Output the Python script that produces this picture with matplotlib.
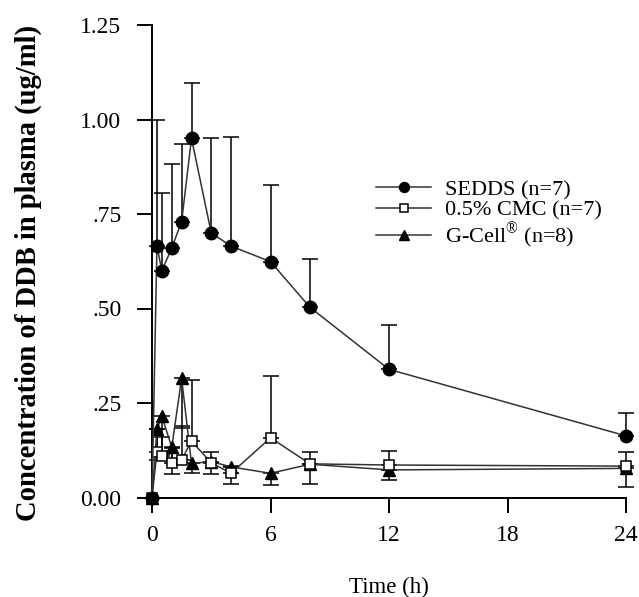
import matplotlib
matplotlib.use("Agg")
import matplotlib.pyplot as plt
import numpy as np

plt.rcParams['font.family'] = ['Liberation Serif', 'DejaVu Serif']
plt.rcParams['mathtext.fontset'] = 'custom'
plt.rcParams['mathtext.rm'] = 'Liberation Serif'

time_h = [0, 0.25, 0.5, 1, 1.5, 2, 3, 4, 6, 8, 12, 24]
sedds = [0, 0.665, 0.60, 0.66, 0.73, 0.95, 0.70, 0.665, 0.624, 0.503, 0.339, 0.163]
sedds_sd = [0, 0.335, 0.206, 0.222, 0.204, 0.147, 0.25, 0.289, 0.202, 0.127, 0.117, 0.06]
cmc = [0, 0.12, 0.11, 0.09, 0.10, 0.149, 0.092, 0.064, 0.158, 0.089, 0.086, 0.083]
cmc_sd = [0, 0.06, 0.05, 0.04, 0.09, 0.162, 0.028, 0.02, 0.164, 0.031, 0.038, 0.038]
gcell = [0, 0.18, 0.215, 0.133, 0.315, 0.09, 0.095, 0.081, 0.064, 0.088, 0.073, 0.077]
gcell_sd = [0, 0.08, 0.10, 0.07, 0.13, 0.026, 0.034, 0.045, 0.032, 0.052, 0.027, 0.048]

labels = ['SEDDS (n=7)', '0.5% CMC (n=7)', 'G-Cell$^{®}$ (n=8)']
xticks = [0, 6, 12, 18, 24]
yticks = [0, 0.25, 0.5, 0.75, 1.0, 1.25]
yticklabels = ['0.00', '.25', '.50', '.75', '1.00', '1.25']

fig = plt.figure(figsize=(6.39, 5.97), dpi=100)
ax = fig.add_axes([152/639, 1-497.5/597, (626-152)/639, (497.5-25)/597])

zeros = np.zeros(len(time_h))
lc = '#333333'
ekw = dict(fmt='none', ecolor='black', elinewidth=1.1, capsize=6, capthick=1.1, clip_on=False)
ax.errorbar(time_h, sedds, yerr=[zeros, sedds_sd], zorder=2, **ekw)
ax.errorbar(time_h, cmc, yerr=[zeros, cmc_sd], zorder=2, **ekw)
ax.errorbar(time_h, gcell, yerr=[gcell_sd, zeros], zorder=2, **ekw)

ax.plot(time_h, gcell, color=lc, lw=1.1, marker='^', ms=8.5, mfc='black', mec='black',
        label=labels[2], zorder=3, clip_on=False)
ax.plot(time_h, cmc, color=lc, lw=1.1, marker='s', ms=7.5, mfc='white', mec='black', mew=1.1,
        label=labels[1], zorder=4, clip_on=False)
ax.plot(time_h, sedds, color=lc, lw=1.1, marker='o', ms=9, mfc='black', mec='black',
        label=labels[0], zorder=5, clip_on=False)

ax.set_xlim(0, 24)
ax.set_ylim(0, 1.25)
ax.set_xticks(xticks)
ax.set_xticklabels([str(v) for v in xticks])
ax.set_yticks(yticks)
ax.set_yticklabels(yticklabels)
for s in ['top', 'right']:
    ax.spines[s].set_visible(False)
for s in ['left', 'bottom']:
    ax.spines[s].set_linewidth(1.4)
ax.tick_params(direction='out', length=11, width=1.4, labelsize=17, pad=9, colors='black')
ax.tick_params(axis='y', pad=11)

ax.set_xlabel('Time (h)', fontsize=16.5, labelpad=22)
ax.set_ylabel('Concentration of DDB in plasma (ug/ml)', fontsize=20.6, fontweight='bold')
ax.yaxis.set_label_coords(-0.232, 0.476)

h, l = ax.get_legend_handles_labels()
order = [2, 1, 0]
leg = ax.legend([h[i] for i in order], [l[i] for i in order], loc='upper left',
                bbox_to_anchor=(0.43, 0.715), frameon=False, fontsize=16,
                handlelength=2.5, handletextpad=0.6, labelspacing=0.0, markerscale=0.8)

fig.savefig('out.png', dpi=100)
